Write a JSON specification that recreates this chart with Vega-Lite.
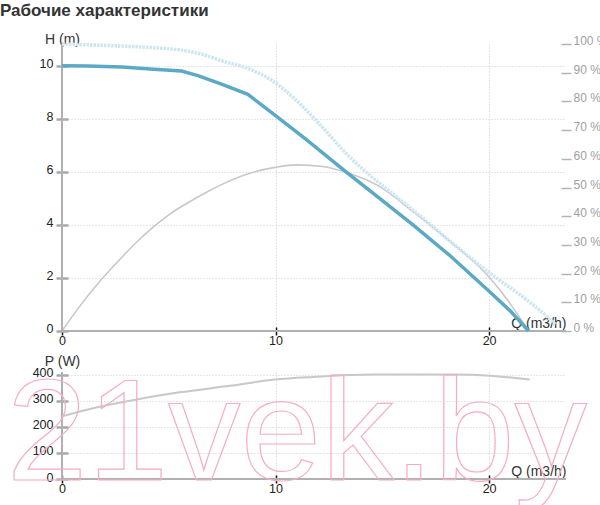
{
  "$schema": "https://vega.github.io/schema/vega-lite/v6.json",
  "background": "white",
  "padding": {"left": 0, "top": 2, "right": 0, "bottom": 0},
  "title": {"text": "Рабочие характеристики", "anchor": "start", "frame": "group", "font": "Liberation Sans", "fontSize": 17, "fontWeight": "bold", "color": "#333333", "dx": -62, "offset": 12},
  "config": {
    "view": {"stroke": null},
    "axis": {"labelFont": "Liberation Sans", "titleFont": "Liberation Sans", "labelFontSize": 12.5, "labelColor": "#222222", "titleFontWeight": "normal", "titleFontSize": 14, "titleColor": "#333333", "gridColor": "#cccccc", "gridDash": [1, 2], "gridWidth": 1, "labelFlush": false, "labelOverlap": false}
  },
  "datasets": {
    "head": [
      {"Q": 0, "H": 10.0}, {"Q": 1.2, "H": 9.99}, {"Q": 2.8, "H": 9.95}, {"Q": 4.3, "H": 9.87}, {"Q": 5.6, "H": 9.8}, {"Q": 6.4, "H": 9.62}, {"Q": 7.5, "H": 9.3}, {"Q": 8.7, "H": 8.92}, {"Q": 10.0, "H": 8.12}, {"Q": 11.4, "H": 7.24}, {"Q": 13.3, "H": 6.0}, {"Q": 14.9, "H": 4.98}, {"Q": 16.45, "H": 3.99}, {"Q": 18.2, "H": 2.82}, {"Q": 20.0, "H": 1.5}, {"Q": 21.0, "H": 0.75}, {"Q": 21.85, "H": 0.0}
    ],
    "limit": [
      {"Q": 0, "H": 10.82}, {"Q": 2.8, "H": 10.74}, {"Q": 4.3, "H": 10.68}, {"Q": 5.9, "H": 10.55}, {"Q": 6.7, "H": 10.4}, {"Q": 7.5, "H": 10.18}, {"Q": 8.7, "H": 9.9}, {"Q": 9.8, "H": 9.46}, {"Q": 10.9, "H": 8.75}, {"Q": 12.0, "H": 7.85}, {"Q": 13.3, "H": 6.7}, {"Q": 16.45, "H": 4.55}, {"Q": 19.6, "H": 2.45}, {"Q": 22.7, "H": 0.55}, {"Q": 23.1, "H": 0.25}
    ],
    "eff": [
      {"Q": 0, "E": 0}, {"Q": 0.75, "E": 7.8}, {"Q": 1.85, "E": 18.0}, {"Q": 2.78, "E": 25.5}, {"Q": 3.5, "E": 31.0}, {"Q": 4.34, "E": 36.6}, {"Q": 5.1, "E": 41.0}, {"Q": 5.9, "E": 44.7}, {"Q": 6.7, "E": 48.1}, {"Q": 7.47, "E": 51.0}, {"Q": 8.72, "E": 54.8}, {"Q": 9.97, "E": 57.0}, {"Q": 11.0, "E": 57.9}, {"Q": 12.2, "E": 57.3}, {"Q": 13.33, "E": 55.2}, {"Q": 14.9, "E": 50.2}, {"Q": 16.45, "E": 41.5}, {"Q": 18.0, "E": 32.2}, {"Q": 20.0, "E": 18.8}, {"Q": 21.15, "E": 7.8}, {"Q": 21.85, "E": 0}
    ],
    "power": [
      {"Q": 0, "P": 240}, {"Q": 1.5, "P": 272}, {"Q": 3.17, "P": 300}, {"Q": 5.5, "P": 332}, {"Q": 7.86, "P": 357}, {"Q": 9.97, "P": 381}, {"Q": 11.76, "P": 391}, {"Q": 14.57, "P": 400}, {"Q": 18.48, "P": 400}, {"Q": 20.0, "P": 396}, {"Q": 21.9, "P": 381}
    ],
    "mark": [{"label": "21vek.by"}]
  },
  "spacing": 7,
  "vconcat": [
    {
      "width": 504,
      "height": 287,
      "layer": [
        {
          "data": {"name": "eff"},
          "mark": {"type": "line", "color": "#c8c8c8", "strokeWidth": 1.6, "interpolate": "monotone"},
          "encoding": {
            "x": {"field": "Q", "type": "quantitative", "scale": {"domain": [0, 23.6], "nice": false}},
            "y": {"field": "E", "type": "quantitative", "scale": {"domain": [0, 100], "nice": false},
              "axis": {"orient": "right", "values": [0, 10, 20, 30, 40, 50, 60, 70, 80, 90, 100], "tickCount": 20, "offset": -5, "tickSize": 10, "tickWidth": 1.5, "tickColor": "#b4b4b4", "domain": false, "grid": false, "labelColor": "#a0a0a0", "labelFontSize": 12, "labelPadding": 2, "labelOffset": -3.5, "labelOverlap": false, "labelExpr": "datum.value + ' %'", "title": null}}
          }
        },
        {
          "layer": [
            {
              "data": {"values": [{}]},
              "mark": {"type": "rule", "color": "#b0b0b0", "strokeWidth": 2},
              "encoding": {
                "y": {"datum": 0, "type": "quantitative"}
              }
            },
            {
              "data": {"values": [{}]},
              "mark": {"type": "rule", "color": "#b0b0b0", "strokeWidth": 2},
              "encoding": {
                "x": {"datum": 0, "type": "quantitative"}
              }
            },
            {
              "data": {"name": "limit"},
              "mark": {"type": "line", "color": "#cde6f0", "strokeWidth": 3.5, "strokeDash": [2.5, 1], "interpolate": "monotone"},
              "encoding": {
                "x": {"field": "Q", "type": "quantitative"},
                "y": {"field": "H", "type": "quantitative"}
              }
            },
            {
              "data": {"name": "head"},
              "mark": {"type": "line", "color": "#5ba9c5", "strokeWidth": 3.5},
              "encoding": {
                "x": {"field": "Q", "type": "quantitative", "scale": {"domain": [0, 23.6], "nice": false},
                  "axis": {"orient": "bottom", "values": [0, 10, 20], "tickCount": 10, "offset": -4, "tickSize": 8, "tickWidth": 1.5, "tickColor": "#111111", "domain": false, "grid": true, "labelPadding": -1, "labelOverlap": false, "title": "Q (m3/h)", "titleX": 504, "titleY": -3.5, "titleAlign": "right", "titleBaseline": "middle"}},
                "y": {"field": "H", "type": "quantitative", "scale": {"domain": [0, 10.82], "nice": false},
                  "axis": {"orient": "left", "values": [0, 2, 4, 6, 8, 10], "tickCount": 10, "offset": -6, "tickSize": 12, "tickWidth": 2.5, "tickColor": "#a8a8a8", "domain": false, "grid": true, "labelPadding": 3, "labelOffset": -2.5, "labelOverlap": false, "title": "H (m)", "titleAngle": 0, "titleX": -6, "titleY": -5, "titleAlign": "center", "titleBaseline": "middle"}}
              }
            }
          ]
        }
      ],
      "resolve": {"scale": {"y": "independent"}, "axis": {"y": "independent"}}
    },
    {
      "width": 504,
      "height": 107,
      "layer": [
        {
          "data": {"values": [{}]},
          "mark": {"type": "rule", "color": "#b0b0b0", "strokeWidth": 2},
          "encoding": {
            "y": {"datum": 0, "type": "quantitative"}
          }
        },
        {
          "data": {"values": [{}]},
          "mark": {"type": "rule", "color": "#b0b0b0", "strokeWidth": 2},
          "encoding": {
            "x": {"datum": 0, "type": "quantitative"}
          }
        },
        {
          "data": {"name": "power"},
          "mark": {"type": "line", "color": "#c8c8c8", "strokeWidth": 2, "interpolate": "monotone"},
          "encoding": {
            "x": {"field": "Q", "type": "quantitative", "scale": {"domain": [0, 23.6], "nice": false},
              "axis": {"orient": "bottom", "values": [0, 10, 20], "tickCount": 10, "offset": -4, "tickSize": 8, "tickWidth": 1.5, "tickColor": "#111111", "domain": false, "grid": true, "labelPadding": -1, "labelOverlap": false, "title": "Q (m3/h)", "titleX": 504, "titleY": -3.5, "titleAlign": "right", "titleBaseline": "middle"}},
            "y": {"field": "P", "type": "quantitative", "scale": {"domain": [0, 410], "nice": false},
              "axis": {"orient": "left", "values": [0, 100, 200, 300, 400], "tickCount": 10, "offset": -6, "tickSize": 12, "tickWidth": 2.5, "tickColor": "#a8a8a8", "domain": false, "grid": true, "labelPadding": 3, "labelOffset": -2, "labelOverlap": false, "title": "P (W)", "titleAngle": 0, "titleX": -6, "titleY": -11, "titleAlign": "center", "titleBaseline": "middle"}}
          }
        },
        {
          "data": {"name": "mark"},
          "mark": {"type": "text", "font": "Liberation Sans", "fontWeight": "normal", "fontSize": 145, "fillOpacity": 0, "stroke": "#f6adc4", "strokeWidth": 1.2, "align": "center", "baseline": "alphabetic"},
          "encoding": {
            "x": {"datum": 11, "type": "quantitative"},
            "y": {"datum": -5, "type": "quantitative"},
            "text": {"field": "label"}
          }
        }
      ]
    }
  ]
}
